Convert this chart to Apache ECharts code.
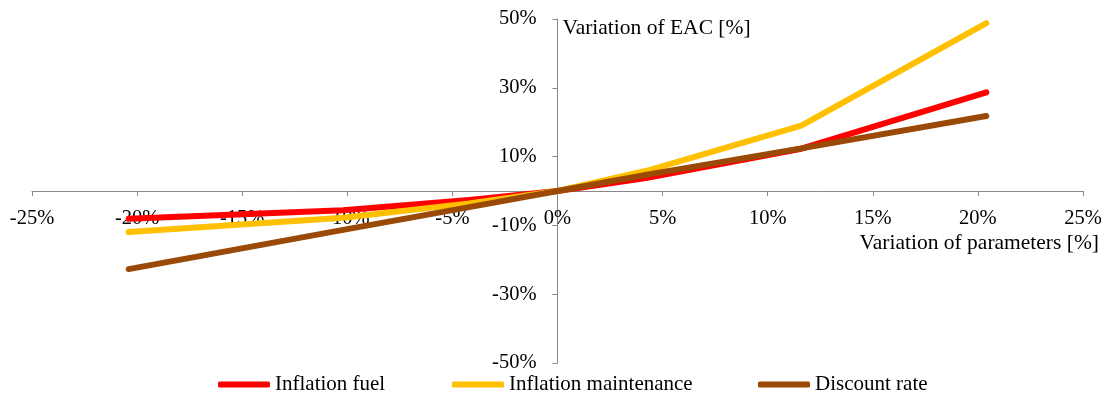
<!DOCTYPE html>
<html>
<head>
<meta charset="utf-8">
<script src="https://cdn.jsdelivr.net/npm/echarts@6/dist/echarts.min.js"></script>
<style>
html,body{margin:0;padding:0;background:#fff;}
#chart{width:1107px;height:394px;}
</style>
</head>
<body>
<div id="chart"></div>
<script>
// Data (percent)
const paramVariation = [-20.4, -10.2, -4.2, 0, 4.2, 11.6, 20.4];
const inflationFuel = [-8.1, -5.6, -2.6, 0, 3.8, 12.3, 28.7];
const inflationMaintenance = [-11.9, -7.8, -3.6, 0, 5.8, 19.0, 48.8];
const discountRate = [-22.7, -11.3, -4.7, 0, 4.7, 12.4, 21.8];
const seriesNames = ['Inflation fuel', 'Inflation maintenance', 'Discount rate'];
const xTickValues = [-25, -20, -15, -10, -5, 0, 5, 10, 15, 20, 25];
const yTickValues = [-50, -30, -10, 10, 30, 50];

const colors = ['#FF0000', '#FFC000', '#9A4A06'];
const font = '"Liberation Serif", "Times New Roman", serif';
const pair = arr => paramVariation.map((x, i) => [x, arr[i]]);
const allSeries = [inflationFuel, inflationMaintenance, discountRate];

const gridLeft = 32, gridRight = 24, gridTop = 19, gridBottom = 31;
const W = 1107, H = 394;
const xMin = -25, xMax = 25, yMin = -50, yMax = 50;
// offsets that place each axis at the other's zero
const plotW = W - gridLeft - gridRight, plotH = H - gridTop - gridBottom;
const yAxisOffset = -plotW * (0 - xMin) / (xMax - xMin);
const xAxisOffset = -plotH * (0 - yMin) / (yMax - yMin);

const chart = echarts.init(document.getElementById('chart'), null, {renderer: 'canvas'});
const axisColor = '#888888';
const legendLefts = [218, 452, 758];

chart.setOption({
  animation: false,
  backgroundColor: '#ffffff',
  textStyle: {fontFamily: font, color: '#000'},
  grid: {left: gridLeft, right: gridRight, top: gridTop, bottom: gridBottom, containLabel: false, outerBoundsMode: 'none'},
  legend: seriesNames.map((n, i) => ({
    data: [n],
    left: legendLefts[i],
    top: 374,
    padding: 0,
    icon: 'roundRect',
    itemWidth: 52,
    itemHeight: 6,
    itemGap: 6,
    textStyle: {fontFamily: font, fontSize: 21, color: '#000'},
    selectedMode: false
  })),
  xAxis: {
    type: 'value',
    min: xMin, max: xMax, interval: 5,
    position: 'bottom',
    offset: xAxisOffset,
    axisLine: {onZero: false, lineStyle: {color: axisColor, width: 1}},
    axisTick: {show: true, length: 5, lineStyle: {color: axisColor}, customValues: xTickValues},
    axisLabel: {customValues: xTickValues, formatter: v => v + '%', fontFamily: font, fontSize: 20.5, color: '#000', margin: 17},
    splitLine: {show: false},
    name: 'Variation of parameters [%]',
    nameLocation: 'end',
    nameGap: 16,
    nameTextStyle: {fontFamily: font, fontSize: 21.5, color: '#000', align: 'right', verticalAlign: 'top', padding: [41, 0, 0, 0]}
  },
  yAxis: {
    type: 'value',
    min: yMin, max: yMax,
    position: 'left',
    offset: yAxisOffset,
    axisLine: {show: true, onZero: false, lineStyle: {color: axisColor, width: 1}},
    axisTick: {show: true, length: 5, lineStyle: {color: axisColor}, customValues: yTickValues},
    axisLabel: {customValues: yTickValues, formatter: v => v + '%', fontFamily: font, fontSize: 20.5, color: '#000', margin: 21},
    splitLine: {show: false},
    name: 'Variation of EAC [%]',
    nameLocation: 'end',
    nameGap: -9,
    nameTextStyle: {fontFamily: font, fontSize: 21.5, color: '#000', align: 'left', verticalAlign: 'middle', padding: [0, 0, 0, 5]}
  },
  series: seriesNames.map((n, i) => ({
    name: n,
    type: 'line',
    data: pair(allSeries[i]),
    showSymbol: false,
    symbol: 'none',
    smooth: false,
    color: colors[i],
    lineStyle: {color: colors[i], width: 6, cap: 'round', join: 'round'},
    itemStyle: {color: colors[i]},
    z: 2 + i
  }))
});
</script>
</body>
</html>
